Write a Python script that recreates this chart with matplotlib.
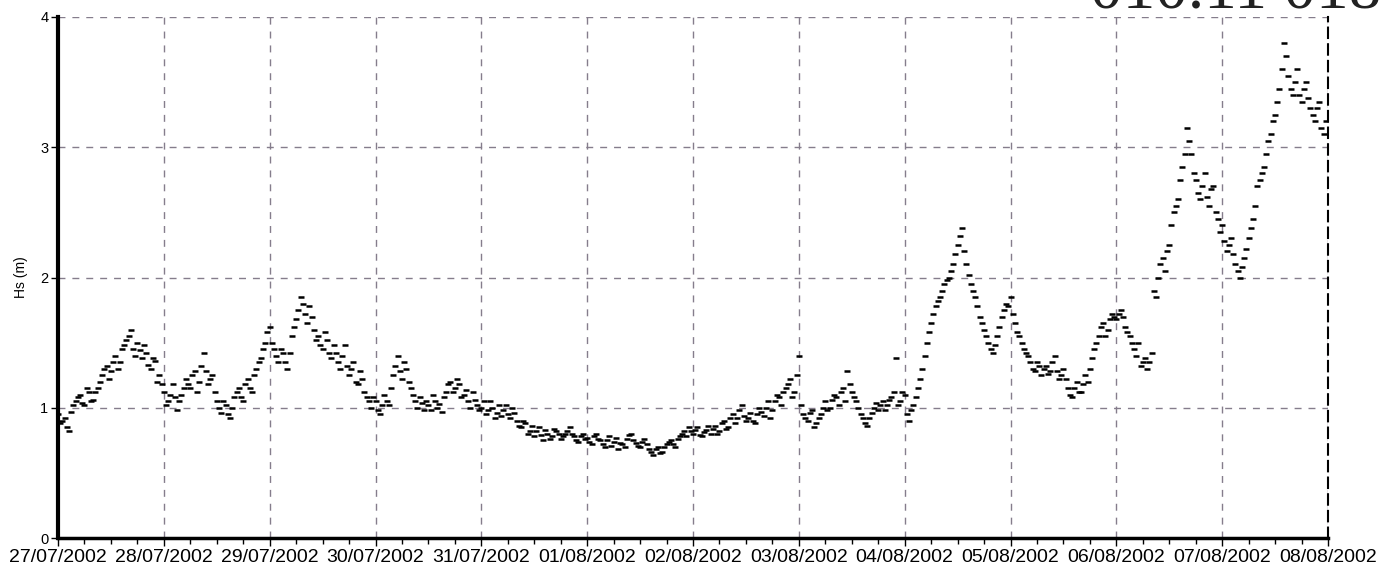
import matplotlib.pyplot as plt
import numpy as np
from matplotlib.ticker import FixedLocator, MultipleLocator

# Hs (m), leituras de hora em hora (hh:00) de 27/07/2002 a 07/08/2002
hs_27jul = [0.95, 0.90, 0.85, 0.97, 1.05, 1.10, 1.02, 1.12, 1.06, 1.15, 1.25, 1.32,
            1.28, 1.40, 1.35, 1.48, 1.55, 1.45, 1.50, 1.38, 1.42, 1.30, 1.36, 1.25]
hs_28jul = [1.12, 1.05, 1.18, 0.98, 1.10, 1.22, 1.15, 1.28, 1.20, 1.42, 1.18, 1.25,
            1.05, 0.96, 1.02, 0.92, 1.08, 1.15, 1.05, 1.22, 1.12, 1.30, 1.38, 1.50]
hs_29jul = [1.62, 1.45, 1.35, 1.42, 1.30, 1.55, 1.68, 1.85, 1.72, 1.78, 1.60, 1.55,
            1.45, 1.52, 1.38, 1.42, 1.30, 1.48, 1.25, 1.35, 1.18, 1.22, 1.08, 1.00]
hs_30jul = [1.05, 0.95, 1.10, 1.02, 1.25, 1.40, 1.22, 1.30, 1.15, 1.05, 1.08, 0.98,
            1.02, 1.10, 1.00, 0.97, 1.12, 1.20, 1.15, 1.18, 1.10, 1.05, 1.12, 1.02]
hs_31jul = [1.00, 0.95, 1.05, 0.92, 1.02, 0.98, 0.95, 1.00, 0.90, 0.85, 0.88, 0.82,
            0.78, 0.85, 0.75, 0.80, 0.78, 0.82, 0.76, 0.80, 0.85, 0.78, 0.74, 0.80]
hs_01ago = [0.77, 0.72, 0.80, 0.75, 0.70, 0.78, 0.74, 0.68, 0.72, 0.76, 0.80, 0.73,
            0.70, 0.76, 0.68, 0.64, 0.70, 0.66, 0.72, 0.75, 0.70, 0.78, 0.82, 0.85]
hs_02ago = [0.80, 0.85, 0.78, 0.83, 0.80, 0.86, 0.82, 0.90, 0.85, 0.95, 0.92, 1.02,
            0.90, 0.96, 0.88, 1.00, 0.94, 1.05, 0.98, 1.10, 1.02, 1.15, 1.22, 1.12]
hs_03ago = [1.40, 0.95, 0.90, 0.98, 0.88, 0.95, 1.05, 1.00, 1.10, 1.02, 1.15, 1.28,
            1.12, 1.05, 0.95, 0.88, 0.92, 1.00, 0.98, 1.05, 1.02, 1.08, 1.38, 1.05]
hs_04ago = [1.10, 0.90, 1.02, 1.15, 1.30, 1.50, 1.65, 1.78, 1.85, 1.95, 2.00, 2.10,
            2.25, 2.38, 2.10, 1.95, 1.85, 1.70, 1.60, 1.50, 1.42, 1.55, 1.70, 1.80]
hs_05ago = [1.85, 1.65, 1.55, 1.45, 1.40, 1.30, 1.35, 1.25, 1.32, 1.28, 1.40, 1.22,
            1.30, 1.15, 1.08, 1.20, 1.12, 1.25, 1.30, 1.45, 1.55, 1.65, 1.60, 1.72]
hs_06ago = [1.68, 1.75, 1.62, 1.55, 1.45, 1.50, 1.35, 1.30, 1.42, 1.85, 2.10, 2.05,
            2.25, 2.50, 2.60, 2.85, 3.15, 2.95, 2.75, 2.60, 2.80, 2.55, 2.70, 2.45]
hs_07ago = [2.40, 2.20, 2.30, 2.10, 2.00, 2.15, 2.30, 2.45, 2.70, 2.80, 2.95, 3.10,
            3.25, 3.45, 3.80, 3.55, 3.40, 3.60, 3.35, 3.50, 3.30, 3.20, 3.35, 3.10]

# leituras das meias horas (hh:30)
hs_27jul_30 = [0.88, 0.92, 0.82, 1.02, 1.08, 1.04, 1.15, 1.05, 1.12, 1.20, 1.30, 1.22,
               1.35, 1.30, 1.45, 1.52, 1.60, 1.40, 1.44, 1.48, 1.33, 1.38, 1.20, 1.18]
hs_28jul_30 = [1.02, 1.10, 1.08, 1.05, 1.15, 1.18, 1.25, 1.12, 1.32, 1.28, 1.22, 1.12,
               1.00, 1.05, 0.95, 1.00, 1.12, 1.08, 1.18, 1.15, 1.25, 1.35, 1.45, 1.58]
hs_29jul_30 = [1.50, 1.40, 1.45, 1.35, 1.42, 1.62, 1.75, 1.80, 1.65, 1.70, 1.52, 1.48,
               1.58, 1.42, 1.48, 1.35, 1.40, 1.32, 1.30, 1.20, 1.28, 1.12, 1.05, 1.08]
hs_30jul_30 = [0.98, 1.02, 1.05, 1.15, 1.32, 1.28, 1.35, 1.20, 1.10, 1.00, 1.04, 1.05,
               0.98, 1.05, 1.03, 1.08, 1.18, 1.12, 1.22, 1.08, 1.14, 1.00, 1.06, 0.98]
hs_31jul_30 = [1.05, 0.98, 1.00, 0.96, 0.94, 1.02, 0.92, 0.96, 0.86, 0.90, 0.80, 0.86,
               0.82, 0.79, 0.83, 0.76, 0.84, 0.80, 0.78, 0.82, 0.80, 0.75, 0.78, 0.76]
hs_01ago_30 = [0.74, 0.78, 0.76, 0.72, 0.75, 0.71, 0.77, 0.73, 0.70, 0.79, 0.75, 0.71,
               0.74, 0.72, 0.66, 0.68, 0.65, 0.70, 0.74, 0.72, 0.76, 0.80, 0.78, 0.82]
hs_02ago_30 = [0.83, 0.79, 0.81, 0.86, 0.84, 0.80, 0.88, 0.84, 0.92, 0.88, 0.98, 0.94,
               0.92, 0.90, 0.95, 0.97, 1.00, 0.92, 1.05, 1.08, 1.12, 1.18, 1.08, 1.25]
hs_03ago_30 = [1.02, 0.92, 0.96, 0.85, 0.92, 1.00, 0.98, 1.06, 1.08, 1.12, 1.05, 1.18,
               1.08, 1.00, 0.92, 0.86, 0.96, 1.04, 1.02, 0.98, 1.06, 1.12, 1.02, 1.12]
hs_04ago_30 = [0.95, 0.98, 1.08, 1.22, 1.40, 1.58, 1.72, 1.82, 1.90, 1.98, 2.05, 2.18,
               2.32, 2.20, 2.02, 1.90, 1.78, 1.65, 1.55, 1.45, 1.48, 1.62, 1.75, 1.78]
hs_05ago_30 = [1.72, 1.58, 1.50, 1.42, 1.35, 1.28, 1.32, 1.30, 1.26, 1.35, 1.28, 1.25,
               1.22, 1.10, 1.15, 1.12, 1.18, 1.20, 1.38, 1.50, 1.62, 1.55, 1.68, 1.70]
hs_06ago_30 = [1.72, 1.70, 1.58, 1.50, 1.40, 1.32, 1.38, 1.35, 1.90, 2.00, 2.15, 2.20,
               2.40, 2.55, 2.75, 2.95, 3.05, 2.80, 2.65, 2.70, 2.62, 2.68, 2.50, 2.35]
hs_07ago_30 = [2.28, 2.25, 2.18, 2.05, 2.08, 2.22, 2.38, 2.55, 2.75, 2.85, 3.05, 3.20,
               3.35, 3.60, 3.70, 3.45, 3.50, 3.40, 3.45, 3.38, 3.25, 3.30, 3.15, 3.20]

dias = ['27/07/2002', '28/07/2002', '29/07/2002', '30/07/2002', '31/07/2002',
        '01/08/2002', '02/08/2002', '03/08/2002', '04/08/2002', '05/08/2002',
        '06/08/2002', '07/08/2002', '08/08/2002']
y_ticks = [0, 1, 2, 3, 4]

hs_00 = np.array(hs_27jul + hs_28jul + hs_29jul + hs_30jul + hs_31jul + hs_01ago
                 + hs_02ago + hs_03ago + hs_04ago + hs_05ago + hs_06ago + hs_07ago)
hs_30 = np.array(hs_27jul_30 + hs_28jul_30 + hs_29jul_30 + hs_30jul_30 + hs_31jul_30
                 + hs_01ago_30 + hs_02ago_30 + hs_03ago_30 + hs_04ago_30
                 + hs_05ago_30 + hs_06ago_30 + hs_07ago_30)
# tempo em dias desde 27/07 00h
t_00 = np.arange(len(hs_00)) / 24.0
t_30 = (np.arange(len(hs_30)) + 0.5) / 24.0
t = np.concatenate([t_00, t_30])
hs = np.concatenate([hs_00, hs_30])

plt.rcParams['font.family'] = ['Liberation Sans', 'DejaVu Sans']

fig = plt.figure(figsize=(13.87, 5.82), dpi=100)
ax = fig.add_axes([58 / 1387, 44 / 582, 1270 / 1387, 521 / 582])

ax.plot(t, hs, linestyle='none', marker='_', markersize=5,
        markeredgewidth=1.8, color='black')

ax.set_xlim(0, len(dias) - 1)
ax.set_ylim(0, 4)
ax.xaxis.set_major_locator(FixedLocator(range(len(dias))))
ax.xaxis.set_minor_locator(MultipleLocator(0.25))
ax.set_xticklabels(dias, fontsize=14)
ax.set_yticks(y_ticks)
ax.set_yticklabels([str(v) for v in y_ticks], fontsize=10.5)
ax.set_ylabel('Hs (m)', fontsize=10, labelpad=9)

ax.grid(True, which='major', color='#857d8c', linestyle=(0, (5, 5)), linewidth=1)
ax.tick_params(axis='x', which='major', length=6, width=1, pad=2)
ax.tick_params(axis='x', which='minor', length=4, width=1)
ax.tick_params(axis='y', which='major', length=5, width=1, pad=2)

ax.spines['left'].set_linewidth(3)
ax.spines['bottom'].set_linewidth(2.5)
ax.spines['top'].set_visible(False)
ax.spines['right'].set_linestyle((0, (5, 3)))
ax.spines['right'].set_linewidth(1.5)

# carimbo manuscrito no canto superior (parcialmente cortado)
fig.text(1090 / 1387, 1 - 7 / 582, '010.11 018', fontsize=47,
         family=['Liberation Serif', 'DejaVu Serif'], color='#222222',
         va='baseline', ha='left')

fig.savefig('out.png', dpi=100)
